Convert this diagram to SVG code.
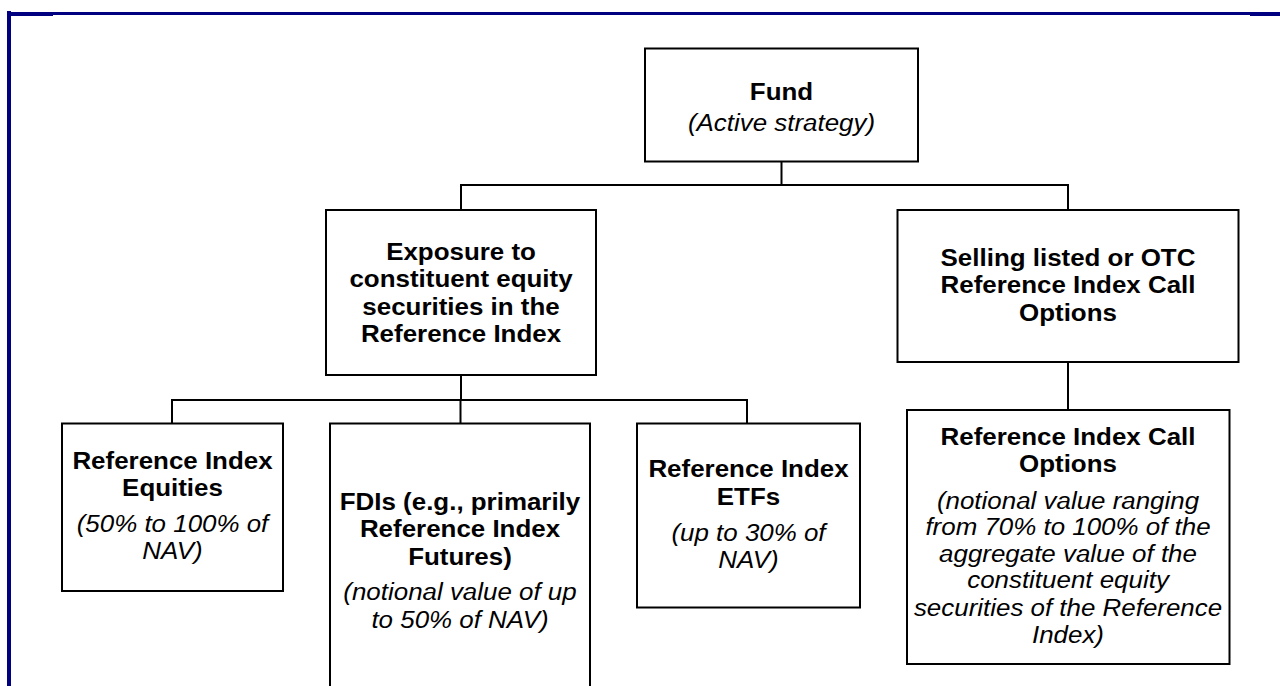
<svg xmlns="http://www.w3.org/2000/svg" width="1280" height="686" viewBox="0 0 1280 686">
<style>
.box{fill:#fff;stroke:#000;stroke-width:2}
.conn line{stroke:#000;stroke-width:2}
text{font-family:"Liberation Sans",Arial,sans-serif;font-size:24px;fill:#000;text-anchor:middle}
.b{font-weight:bold}
.i{font-style:italic}
</style>
<rect width="1280" height="686" fill="#fff"/>
<g id="frame" fill="#000080">
<rect x="7" y="12" width="1273" height="3"/>
<rect x="7" y="11" width="4" height="675"/>
<rect x="7" y="12" width="46" height="4"/>
<rect x="1250" y="12" width="30" height="4"/>
</g>
<g class="conn" id="connectors">
<line x1="781.5" y1="161.5" x2="781.5" y2="185"/>
<line x1="460" y1="185" x2="1069" y2="185"/>
<line x1="461" y1="185" x2="461" y2="210"/>
<line x1="1068" y1="185" x2="1068" y2="210"/>
<line x1="461" y1="375" x2="461" y2="400"/>
<line x1="171" y1="400" x2="748" y2="400"/>
<line x1="172" y1="400" x2="172" y2="423.5"/>
<line x1="460.5" y1="400" x2="460.5" y2="423.5"/>
<line x1="747" y1="400" x2="747" y2="423.5"/>
<line x1="1068" y1="362" x2="1068" y2="410"/>
</g>
<g id="fund">
<rect class="box" x="645" y="48.5" width="273" height="113"/>
<g transform="translate(781.5 0) scale(1.08 1)">
<text class="b" x="0" y="100">Fund</text>
<text class="i" x="0" y="131">(Active strategy)</text>
</g>
</g>
<g id="exposure">
<rect class="box" x="326" y="210" width="270" height="165"/>
<g transform="translate(461 0) scale(1.08 1)">
<text class="b" x="0" y="260">Exposure to</text>
<text class="b" x="0" y="287.5">constituent equity</text>
<text class="b" x="0" y="315">securities in the</text>
<text class="b" x="0" y="342.5">Reference Index</text>
</g>
</g>
<g id="selling">
<rect class="box" x="897.5" y="210" width="341" height="152"/>
<g transform="translate(1068 0) scale(1.08 1)">
<text class="b" x="0" y="266">Selling listed or OTC</text>
<text class="b" x="0" y="293.5">Reference Index Call</text>
<text class="b" x="0" y="321">Options</text>
</g>
</g>
<g id="equities">
<rect class="box" x="62" y="423.5" width="221" height="167.5"/>
<g transform="translate(172.5 0) scale(1.08 1)">
<text class="b" x="0" y="469">Reference Index</text>
<text class="b" x="0" y="496.5">Equities</text>
<text class="i" x="0" y="532.5">(50% to 100% of</text>
<text class="i" x="0" y="559.5">NAV)</text>
</g>
</g>
<g id="fdis">
<rect class="box" x="330" y="423.5" width="260" height="290"/>
<g transform="translate(460 0) scale(1.08 1)">
<text class="b" x="0" y="510">FDIs (e.g., primarily</text>
<text class="b" x="0" y="537.5">Reference Index</text>
<text class="b" x="0" y="565">Futures)</text>
<text class="i" x="0" y="600.5">(notional value of up</text>
<text class="i" x="0" y="628">to 50% of NAV)</text>
</g>
</g>
<g id="etfs">
<rect class="box" x="637" y="423.5" width="223" height="184"/>
<g transform="translate(748.5 0) scale(1.08 1)">
<text class="b" x="0" y="477">Reference Index</text>
<text class="b" x="0" y="505">ETFs</text>
<text class="i" x="0" y="541.5">(up to 30% of</text>
<text class="i" x="0" y="568">NAV)</text>
</g>
</g>
<g id="calloptions">
<rect class="box" x="907" y="410" width="322.5" height="254"/>
<g transform="translate(1068 0) scale(1.08 1)">
<text class="b" x="0" y="445">Reference Index Call</text>
<text class="b" x="0" y="472">Options</text>
<text class="i" x="0" y="509">(notional value ranging</text>
<text class="i" x="0" y="535.5">from 70% to 100% of the</text>
<text class="i" x="0" y="562">aggregate value of the</text>
<text class="i" x="0" y="588.5">constituent equity</text>
<text class="i" x="0" y="616">securities of the Reference</text>
<text class="i" x="0" y="643">Index)</text>
</g>
</g>
</svg>
